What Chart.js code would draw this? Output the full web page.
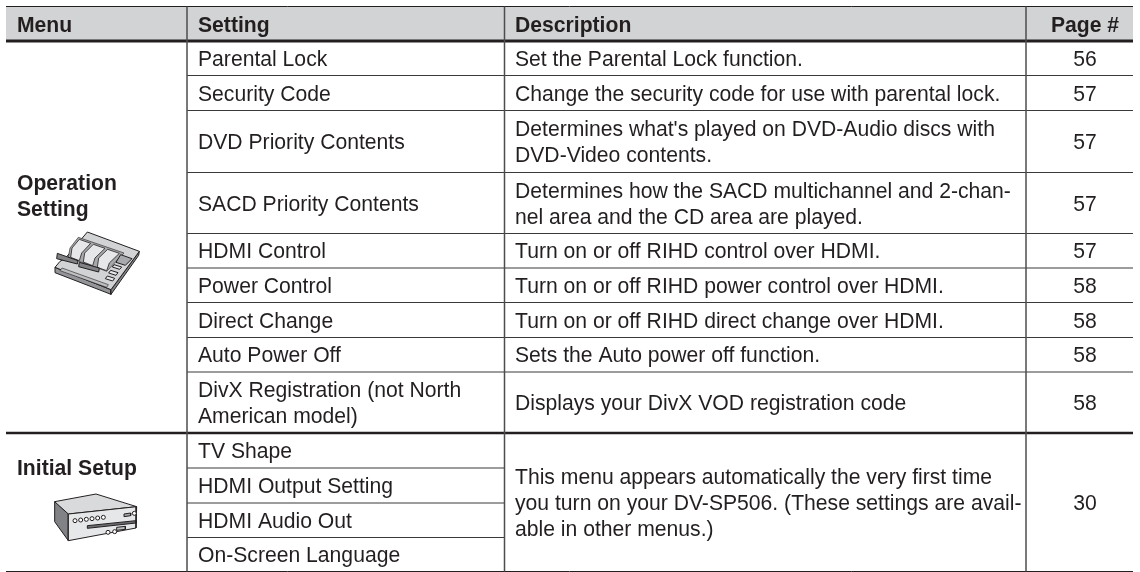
<!DOCTYPE html>
<html>
<head>
<meta charset="utf-8">
<style>
html,body{margin:0;padding:0;background:#fff;}
#wrap{width:1140px;height:572px;}
</style>
<script src="https://cdn.jsdelivr.net/npm/chart.js@4"></script>
</head>
<body>
<div id="wrap"><canvas id="tbl" width="1140" height="572"></canvas></div>
<script>
var headers=['Menu','Setting','Description','Page #'];
var menus=[['Operation','Setting'],['Initial Setup']];
var settings=[['Parental Lock'],['Security Code'],['DVD Priority Contents'],['SACD Priority Contents'],['HDMI Control'],['Power Control'],['Direct Change'],['Auto Power Off'],['DivX Registration (not North','American model)'],['TV Shape'],['HDMI Output Setting'],['HDMI Audio Out'],['On-Screen Language']];
var descriptions=[['Set the Parental Lock function.'],['Change the security code for use with parental lock.'],["Determines what's played on DVD-Audio discs with",'DVD-Video contents.'],['Determines how the SACD multichannel and 2-chan-','nel area and the CD area are played.'],['Turn on or off RIHD control over HDMI.'],['Turn on or off RIHD power control over HDMI.'],['Turn on or off RIHD direct change over HDMI.'],['Sets the Auto power off function.'],['Displays your DivX VOD registration code']];
var lastDescription=['This menu appears automatically the very first time','you turn on your DV-SP506. (These settings are avail-','able in other menus.)'];
var pages=['56','57','57','57','57','58','58','58','58'];
var lastPage='30';

// table grid, page units
var colEdges=[6,187,504.5,1026,1133];
var rowEdges=[41,75.5,110.5,172.5,233.5,268,302.5,337.5,372,433,468,503,537.5,571.5];
var tableTop=6.5, headBottom=40, fs=21.15, lineH=26, ink='#231f20';

function seg(x1,y1,x2,y2,w,c){return {data:[{x:x1,y:y1},{x:x2,y:y2}],showLine:true,pointRadius:0,borderWidth:w,borderColor:c||ink,fill:false};}
function poly(ox,oy,pts,bg,w,c){
  var d=pts.map(function(p){return {x:ox+p[0]/3,y:oy+p[1]/3};});
  d.push(d[0]);
  return {data:d,showLine:true,pointRadius:0,borderWidth:w==null?1:w,borderColor:c||ink,backgroundColor:bg,fill:bg?'shape':false,tension:0};
}

var ds=[];
// header band
ds.push({data:[{x:colEdges[0],y:tableTop},{x:colEdges[4],y:tableTop}],showLine:true,pointRadius:0,borderWidth:1,borderColor:ink,backgroundColor:'#d1d3d4',fill:{value:headBottom}});
ds.push(seg(colEdges[0],41,colEdges[4],41,3));
ds.push(seg(colEdges[0],433,colEdges[4],433,2.5));
ds.push(seg(colEdges[0],571.5,colEdges[4],571.5,1));
rowEdges.slice(1,9).forEach(function(y){ds.push(seg(colEdges[1],y,colEdges[4],y,1.2,'#3a3a3c'));});
rowEdges.slice(10,13).forEach(function(y){ds.push(seg(colEdges[1],y,colEdges[2],y,1.2,'#3a3a3c'));});
colEdges.slice(1,4).forEach(function(x){ds.push(seg(x,tableTop,x,571.5,1.5,'#4d4d4f'));});

// icon 1: control panel
var ix=50, iy=228;
ds.push(poly(ix,iy,[[15,118],[183,185],[183,199],[15,134]],'#939598'));
ds.push(poly(ix,iy,[[183,185],[268,70],[266,82],[183,199]],'#808285'));
ds.push(poly(ix,iy,[[112,12],[268,70],[183,185],[15,118],[30,100],[45,92]],'#d1d3d4'));
ds.push(poly(ix,iy,[[30,128],[170,178],[175,170],[36,120]],'#bcbec0',0.6));
ds.push(poly(ix,iy,[[85,28],[222,75],[170,130],[55,88],[60,60]],'#a7a9ac',0.6));
ds.push(poly(ix,iy,[[88,34],[122,46],[95,75],[88,98],[62,88],[66,60]],'#e6e7e8',0.8));
ds.push(poly(ix,iy,[[130,49],[165,61],[135,90],[128,113],[100,102],[104,75]],'#e6e7e8',0.8));
ds.push(poly(ix,iy,[[173,64],[208,76],[178,105],[170,128],[142,118],[146,90]],'#e6e7e8',0.8));
ds.push(poly(ix,iy,[[22,76],[84,98],[82,108],[20,92]],'#808285'));
ds.push(poly(ix,iy,[[88,103],[148,120],[146,132],[86,116]],'#808285'));
ds.push(poly(ix,iy,[[212,80],[246,92],[226,112],[198,103]],'#a7a9ac'));
ds.push(poly(ix,iy,[[192,110],[215,117],[209,124],[187,117]],'#e6e7e8'));
ds.push(poly(ix,iy,[[182,127],[204,134],[198,142],[176,135]],'#e6e7e8'));
ds.push(poly(ix,iy,[[172,144],[194,151],[188,159],[166,152]],'#e6e7e8'));

// icon 2: player
var jx=48, jy=495;
ds.push(poly(jx,jy,[[20,20],[61,57],[61,137],[20,80]],'#808285'));
ds.push(poly(jx,jy,[[144,-3],[266,35],[61,57],[20,20]],'#d9dadb'));
ds.push(poly(jx,jy,[[61,57],[266,35],[264,99],[61,137]],'#e6e7e8'));
ds.push(poly(jx,jy,[[118,92],[264,77],[264,84],[118,100]],'#6d6e71'));
ds.push(poly(jx,jy,[[228,57],[248,54],[248,62],[228,65]],'#a7a9ac'));
ds.push(poly(jx,jy,[[206,97],[232,94],[232,103],[206,106]],'#bcbec0'));
var dots=[[81,77],[98,75],[115,73],[132,71],[149,69],[166,67],[259,55],[180,112],[200,110]];
ds.push({data:dots.map(function(p){return {x:jx+p[0]/3,y:jy+p[1]/3};}),showLine:false,pointRadius:2,pointBorderWidth:1,pointBorderColor:ink,pointBackgroundColor:'#fff'});

// later datasets paint on top
ds.forEach(function(d,i){d.order=ds.length-i;});

var tableText={id:'tableText',afterDatasetsDraw:function(chart){
  var c=chart.ctx, X=chart.scales.x, Y=chart.scales.y;
  function put(t,x,y,align,bold){
    c.font=(bold?'bold ':'')+fs+'px "Liberation Sans"';
    c.textAlign=align||'left'; c.textBaseline='alphabetic'; c.fillStyle=ink;
    c.fillText(t,X.getPixelForValue(x),Y.getPixelForValue(y));
  }
  function block(lines,x,cy,align){
    var y0=cy-(lines.length-1)*lineH/2+7.5;
    lines.forEach(function(t,i){put(t,x,y0+i*lineH,align);});
  }
  c.save();
  [[17,'left'],[198,'left'],[515,'left'],[1085,'center']].forEach(function(h,i){put(headers[i],h[0],32,h[1],true);});
  put(menus[0][0],17,190,'left',true); put(menus[0][1],17,216,'left',true);
  put(menus[1][0],17,475,'left',true);
  settings.forEach(function(s,i){block(s,198,(rowEdges[i]+rowEdges[i+1])/2);});
  descriptions.forEach(function(s,i){block(s,515,(rowEdges[i]+rowEdges[i+1])/2);});
  block(lastDescription,515,(rowEdges[9]+rowEdges[13])/2);
  pages.forEach(function(p,i){block([p],1085,(rowEdges[i]+rowEdges[i+1])/2,'center');});
  block([lastPage],1085,(rowEdges[9]+rowEdges[13])/2,'center');
  c.restore();
}};

new Chart(document.getElementById('tbl'),{
  type:'scatter',
  data:{datasets:ds},
  options:{responsive:false,animation:false,events:[],layout:{padding:0,autoPadding:false},
    plugins:{legend:{display:false},tooltip:{enabled:false}},
    scales:{x:{type:'linear',min:0,max:1140,display:false},y:{type:'linear',min:0,max:572,reverse:true,display:false}}},
  plugins:[tableText]
});
</script>
</body>
</html>
